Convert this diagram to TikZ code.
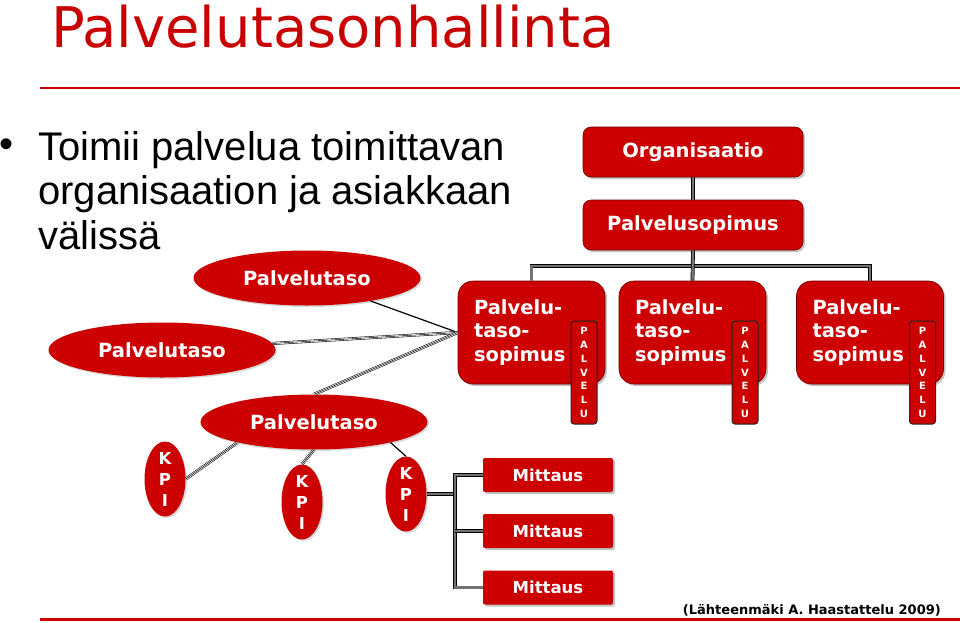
\documentclass[tikz,border=0pt]{standalone}
\usepackage{fontspec}
\setmainfont{Liberation Sans}
\newfontfamily\boxfont{DejaVu Sans}
\usetikzlibrary{shapes.geometric,shadows}
\definecolor{slidered}{RGB}{204,0,0}
\definecolor{titlered}{RGB}{200,0,0}

\begin{document}
\begin{tikzpicture}[x=1pt, y=-1pt,
      every node/.style = {inner sep=0pt},
      lvl/.style = {ellipse, fill=slidered, text=white,
        minimum width=227pt, minimum height=55pt,
        font=\boxfont\bfseries\fontsize{19.5}{21}\selectfont,
        drop shadow={shadow xshift=1.5pt, shadow yshift=-1.5pt, opacity=.3}},
      kpi/.style = {ellipse, fill=slidered, text=white, align=center,
        minimum width=41pt, minimum height=75pt, inner ysep=-3pt,
        font=\boxfont\bfseries\fontsize{16.5}{21}\selectfont,
        drop shadow={shadow xshift=1.5pt, shadow yshift=-1.5pt, opacity=.3}},
      box/.style = {rectangle, rounded corners=8pt, fill=slidered, text=white,
        draw=red!45!black, line width=.6pt,
        minimum width=220pt, minimum height=50pt,
        font=\boxfont\bfseries\fontsize{19.5}{23.5}\selectfont,
        drop shadow={shadow xshift=2pt, shadow yshift=-2pt, opacity=.45}},
      sla/.style = {box, rounded corners=15pt, align=left, text width=115pt,
        inner xsep=16pt, minimum width=147pt, minimum height=103pt},
      tab/.style = {rectangle, rounded corners=3pt, fill=slidered, text=white,
        draw=black!85, line width=1pt, align=center,
        minimum width=26pt, minimum height=103pt,
        font=\boxfont\bfseries\fontsize{10}{13.9}\selectfont},
      meas/.style = {box, rounded corners=2pt, draw=none,
        minimum width=130pt, minimum height=34pt,
        font=\boxfont\bfseries\fontsize{16.5}{18}\selectfont},
      bar/.style = {draw=black, line width=.7pt, double=black!55, double distance=2.4pt},
      thin/.style = {draw=black, line width=1.2pt},
      tripleline/.style = {draw=black, line width=.5pt,
        preaction={draw=black, line width=3pt},
        preaction={draw=white, line width=1.9pt}}]
  \fill[white] (0,0) rectangle (960,622);
  \useasboundingbox (0,0) rectangle (960,622);

  % heading and bullet
  \node[anchor=base west, text=titlered, font=\boxfont\fontsize{56}{56}\selectfont]
    (title) at (51,47) {Palvelutasonhallinta};
  \draw[slidered, line width=2.5pt] (40,88) -- (960,88);
  \node[anchor=base west, font=\fontsize{40}{44}\selectfont] (dot) at (-1,157) {•};
  \node[anchor=north west, align=left, font=\fontsize{40}{44.5}\selectfont]
    (bullet) at (38,131) {Toimii palvelua toimittavan\\organisaation ja asiakkaan\\välissä};

  % levels
  \node[lvl] (e1) at (307,278) {Palvelutaso};
  \node[lvl] (e2) at (162,350) {Palvelutaso};
  \node[lvl] (e3) at (314,422) {Palvelutaso};

  % organisation tree
  \node[box] (org) at (693,152) {Organisaatio};
  \node[box] (ps) at (693,225) {Palvelusopimus};
  \foreach \n/\x in {b1/531.5, b2/692.5, b3/870} {
    \node[sla] (\n) at (\x,332.5) {Palvelu-\\taso-\\sopimus};
    \node[tab] (\n tab) at ([shift={(52.5,40)}]\n.center) {P\\A\\L\\V\\E\\L\\U};
  }
  \coordinate (bus) at (693,266);

  % KPIs and measurements
  \node[kpi] (k1) at (165,479) {K\\P\\I};
  \node[kpi] (k2) at (302,502) {K\\P\\I};
  \node[kpi] (k3) at (406,494) {K\\P\\I};
  \node[meas] (m1) at (548,475) {Mittaus};
  \node[meas] (m2) at (548,531) {Mittaus};
  \node[meas] (m3) at (548,587.5) {Mittaus};
  \coordinate (fork) at (455,494);

  % connectors
  \draw[bar] (org) -- (ps);
  \draw[bar] (b1.north) |- (bus) -| (b3.north);
  \draw[bar] (ps.south) -- (b2.north);
  \draw[thin] (e1) -- (b1.west);
  \draw[tripleline] (e2) -- (b1.west);
  \draw[tripleline] (e3.north) -- (b1.west);
  \draw[tripleline] (k1.east) -- (e3.195);
  \draw[tripleline] (k2.north) -- (e3.south);
  \draw[thin] (k3.north) -- (e3.-15);
  \draw[bar] (k3.east) -- (fork);
  \draw[bar] (m1.west) -| (fork) |- (m3.west);
  \draw[bar] (fork |- m2.west) -- (m2.west);

  \node[anchor=base east, font=\boxfont\bfseries\fontsize{13}{13}\selectfont]
    (cite) at (941,614.5) {(Lähteenmäki A. Haastattelu 2009)};
  \draw[slidered, line width=3pt] (40,619) -- (960,619);
\end{tikzpicture}
\end{document}
